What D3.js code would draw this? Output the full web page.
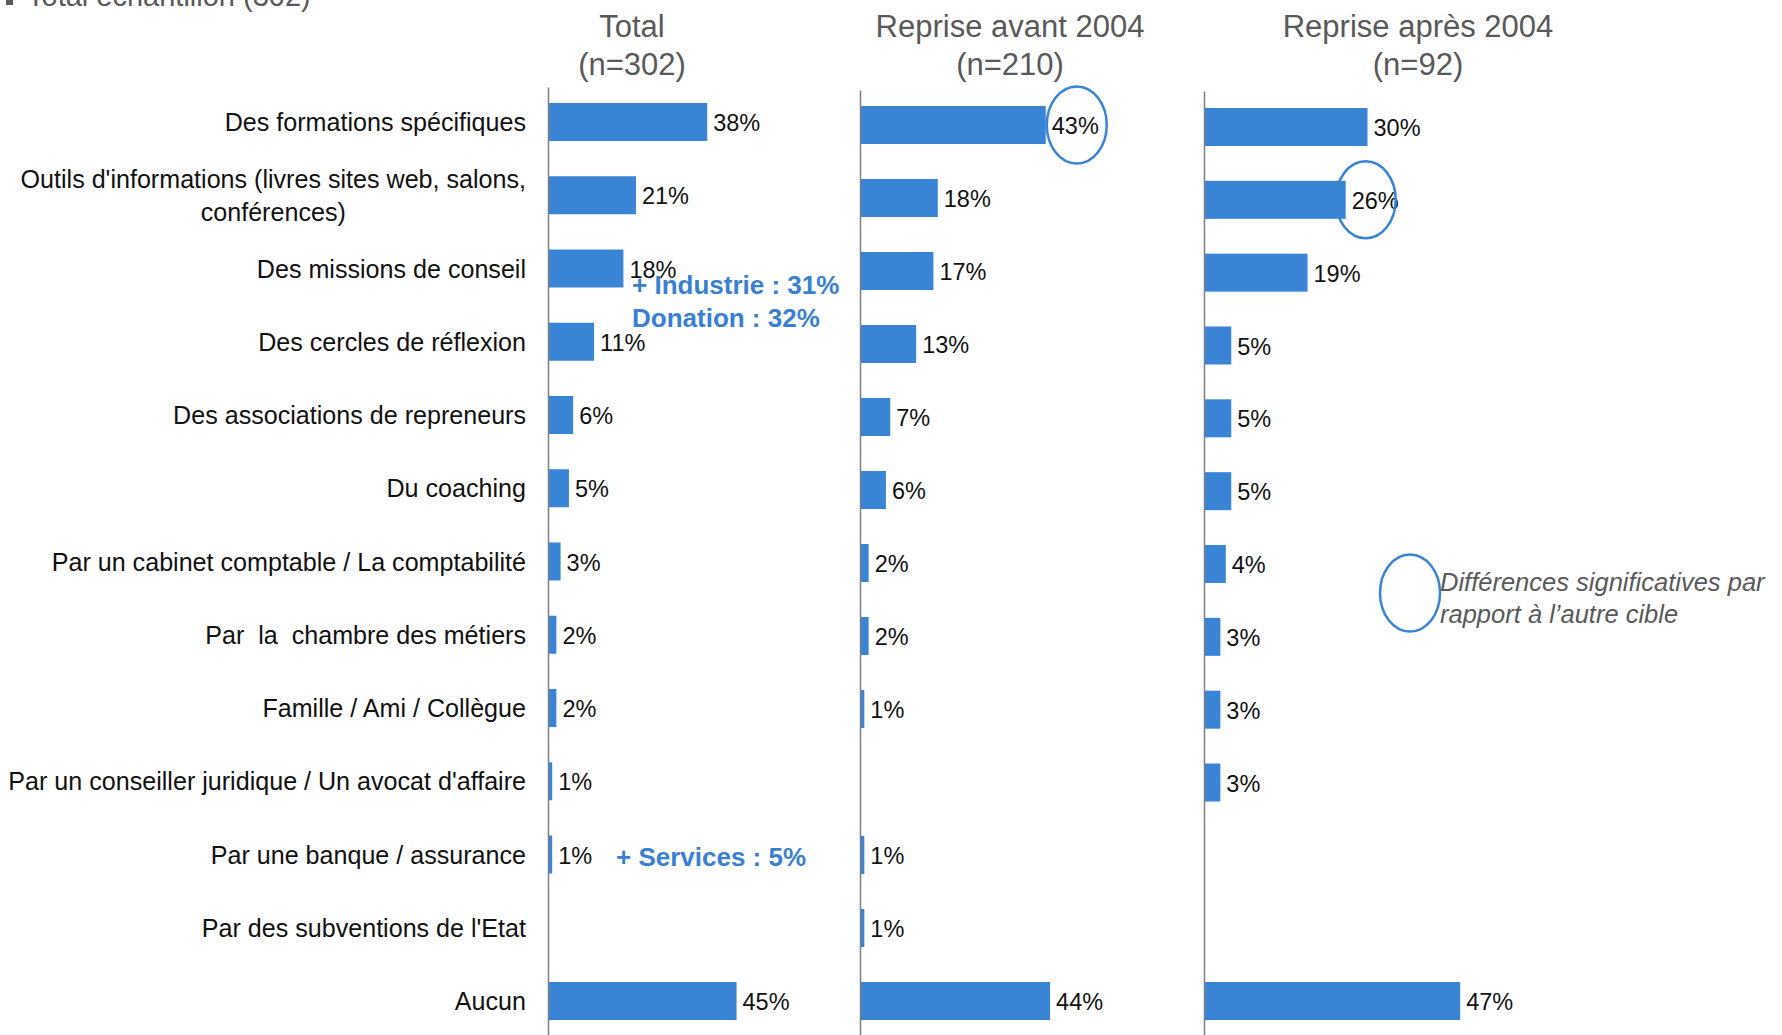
<!DOCTYPE html>
<html>
<head>
<meta charset="utf-8">
<script src="https://cdn.jsdelivr.net/npm/d3@7/dist/d3.min.js"></script>
<style>
  html, body { margin: 0; padding: 0; background: #fff; }
  svg { display: block; font-family: "Liberation Sans", Arial, sans-serif; }
  text { white-space: pre; }
</style>
</head>
<body>
<svg id="chart" width="1782" height="1035"></svg>
<script>
// ---- data ----
const categories = [
  ["Des formations spécifiques"],
  ["Outils d'informations (livres sites web, salons,", "conférences)"],
  ["Des missions de conseil"],
  ["Des cercles de réflexion"],
  ["Des associations de repreneurs"],
  ["Du coaching"],
  ["Par un cabinet comptable / La comptabilité"],
  ["Par  la  chambre des métiers"],
  ["Famille / Ami / Collègue"],
  ["Par un conseiller juridique / Un avocat d'affaire"],
  ["Par une banque / assurance"],
  ["Par des subventions de l'Etat"],
  ["Aucun"]
];
const panelTitles = [["Total", "(n=302)"], ["Reprise avant 2004", "(n=210)"], ["Reprise après 2004", "(n=92)"]];
const totalValues = [38, 21, 18, 11, 6, 5, 3, 2, 2, 1, 1, null, 45];
const avantValues = [43, 18, 17, 13, 7, 6, 2, 2, 1, null, 1, 1, 44];
const apresValues = [30, 26, 19, 5, 5, 5, 4, 3, 3, 3, null, null, 47];
// significant differences (panel index, category index)
const highlights = [[1, 0], [2, 1]];
const annotations = [
  { panel: 0, row: 2, lines: ["+ Industrie : 31%", "Donation : 32%"] },
  { panel: 0, row: 10, lines: ["+ Services : 5%"] }
];
const legendText = ["Différences significatives par", "rapport à l\u2019autre cible"];
const topNote = "Total échantillon (302)";

// ---- layout ----
const svg = d3.select("#chart");
const blue = "#3A84D6";
const grey = "#595959";

const panels = [
  { values: totalValues, x0: 548, width: 419, top: 122, axisTop: 87, titleX: 632 },
  { values: avantValues, x0: 860, width: 432, top: 125, axisTop: 90, titleX: 1010 },
  { values: apresValues, x0: 1204, width: 545, top: 127, axisTop: 91, titleX: 1418 }
];
const bottom = 1001;
const barH = 38;
const labelSize = 25.1;

// top-left note (cut off in original)
svg.append("rect").attr("x", 6).attr("y", -4).attr("width", 7).attr("height", 9).attr("fill", grey);
svg.append("text").attr("x", 27).attr("y", 6).attr("fill", grey)
  .attr("font-size", 29).text(topNote);

panels.forEach((p, pi) => {
  const y = d3.scalePoint().domain(d3.range(categories.length)).range([p.top, bottom]);
  const x = d3.scaleLinear().domain([0, 100]).range([p.x0, p.x0 + p.width]);
  p.x = x; p.y = y;

  // title
  const t = svg.append("text").attr("x", p.titleX).attr("text-anchor", "middle")
    .attr("fill", grey).attr("font-size", 31);
  t.append("tspan").attr("x", p.titleX).attr("y", 37).text(panelTitles[pi][0]);
  t.append("tspan").attr("x", p.titleX).attr("y", 75).text(panelTitles[pi][1]);

  const g = svg.append("g");
  const data = p.values.map((v, i) => ({ v, i })).filter(d => d.v !== null);

  g.selectAll("rect").data(data).enter().append("rect")
    .attr("x", x(0)).attr("y", d => y(d.i) - barH / 2)
    .attr("width", d => x(d.v) - x(0)).attr("height", barH)
    .attr("fill", blue);

  g.selectAll("text.val").data(data).enter().append("text")
    .attr("class", "val")
    .attr("x", d => x(d.v) + 6).attr("y", d => y(d.i) + 9)
    .attr("font-size", 23.5).attr("fill", "#111")
    .text(d => d.v + "%");

  // axis line
  const axis = d3.axisLeft(d3.scaleLinear().range([p.axisTop, 1035])).ticks(0).tickSizeOuter(0);
  const ag = svg.append("g").attr("transform", `translate(${p.x0},0)`).call(axis);
  ag.select(".domain").attr("stroke", "#7f7f7f").attr("stroke-width", 1.5);
});

// category labels (multi-line labels are centred as a block, right-aligned)
const yl = panels[0].y;
categories.forEach((lines, i) => {
  const n = lines.length;
  if (n === 1) {
    svg.append("text").attr("text-anchor", "end").attr("font-size", labelSize).attr("fill", "#111")
      .attr("x", 526).attr("y", yl(i) + 9).text(lines[0]);
  } else {
    const tmp = svg.append("text").attr("font-size", labelSize).text(lines[0]);
    const w = tmp.node().getComputedTextLength();
    tmp.remove();
    const cx = 526 - w / 2;
    lines.forEach((l, k) => {
      svg.append("text").attr("text-anchor", "middle").attr("font-size", labelSize).attr("fill", "#111")
        .attr("x", cx).attr("y", yl(i) + 9 + (k - (n - 1) / 2) * 33).text(l);
    });
  }
});

// highlight ellipses
const ellipseOffsets = [31, 20];
highlights.forEach(([pi, ci], k) => {
  const p = panels[pi];
  const v = p.values[ci];
  svg.append("ellipse")
    .attr("cx", p.x(v) + ellipseOffsets[k]).attr("cy", p.y(ci))
    .attr("rx", 30).attr("ry", 38.5)
    .attr("fill", "none").attr("stroke", blue).attr("stroke-width", 2.5);
});

// annotations
annotations.forEach(a => {
  const p = panels[a.panel];
  const baseY = a.row === 2 ? p.y(a.row) + 25 : p.y(a.row) + 11;
  const startX = a.row === 2 ? 632 : 616;
  a.lines.forEach((l, k) => {
    svg.append("text").attr("x", startX).attr("y", baseY + k * 33)
      .attr("font-size", 26).attr("font-weight", "bold").attr("fill", "#3A80D2")
      .text(l);
  });
});

// legend
svg.append("ellipse").attr("cx", 1410).attr("cy", 593).attr("rx", 30).attr("ry", 38.5)
  .attr("fill", "none").attr("stroke", blue).attr("stroke-width", 2.5);
legendText.forEach((l, k) => {
  svg.append("text").attr("x", 1440).attr("y", 591 + k * 32)
    .attr("font-size", 25.5).attr("font-style", "italic").attr("fill", grey).text(l);
});
</script>
</body>
</html>
